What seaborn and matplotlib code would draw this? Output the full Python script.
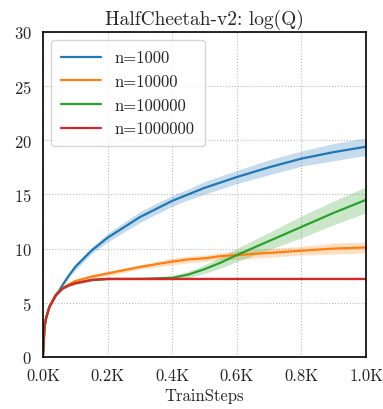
import matplotlib
matplotlib.use("Agg")
import matplotlib.pyplot as plt
import numpy as np
import pandas as pd
import seaborn as sns
from matplotlib.ticker import FuncFormatter

steps = [0, 5, 10, 20, 40, 50, 60, 80, 100, 150, 200, 300, 400, 450, 500, 550, 600, 700, 800, 900, 1000]
labels = ["n=1000", "n=10000", "n=100000", "n=1000000"]
q_n1e3 = [0, 2.8, 3.6, 4.6, 5.7, 6.1, 6.6, 7.5, 8.3, 9.8, 11.0, 12.9, 14.4, 15.0, 15.6, 16.1, 16.6, 17.5, 18.3, 18.9, 19.4]
q_n1e4 = [0, 2.8, 3.6, 4.6, 5.7, 6.0, 6.3, 6.7, 7.0, 7.4, 7.7, 8.3, 8.8, 9.0, 9.1, 9.3, 9.4, 9.6, 9.8, 10.0, 10.1]
q_n1e5 = [0, 2.8, 3.6, 4.6, 5.7, 6.0, 6.3, 6.6, 6.8, 7.1, 7.2, 7.2, 7.3, 7.6, 8.1, 8.7, 9.4, 10.7, 12.0, 13.3, 14.5]
q_n1e6 = [0, 2.8, 3.6, 4.6, 5.7, 6.0, 6.3, 6.6, 6.8, 7.1, 7.2, 7.2, 7.2, 7.2, 7.2, 7.2, 7.2, 7.2, 7.2, 7.2, 7.2]
sd_n1e3 = [0, 0.1, 0.1, 0.1, 0.2, 0.2, 0.2, 0.2, 0.3, 0.3, 0.4, 0.5, 0.5, 0.5, 0.6, 0.6, 0.6, 0.7, 0.7, 0.8, 0.8]
sd_n1e4 = [0, 0.1, 0.1, 0.1, 0.1, 0.1, 0.1, 0.1, 0.1, 0.2, 0.2, 0.2, 0.3, 0.3, 0.3, 0.3, 0.4, 0.4, 0.4, 0.5, 0.5]
sd_n1e5 = [0, 0.1, 0.1, 0.1, 0.1, 0.1, 0.1, 0.1, 0.1, 0.1, 0.1, 0.1, 0.2, 0.3, 0.4, 0.5, 0.6, 0.8, 1.0, 1.1, 1.2]
sd_n1e6 = [0, 0.1, 0.1, 0.1, 0.1, 0.1, 0.1, 0.1, 0.1, 0.1, 0.1, 0.1, 0.1, 0.1, 0.1, 0.1, 0.1, 0.1, 0.1, 0.1, 0.1]

means = [q_n1e3, q_n1e4, q_n1e5, q_n1e6]
stds = [sd_n1e3, sd_n1e4, sd_n1e5, sd_n1e6]

sns.set_theme(style="white")
plt.rcParams["font.family"] = ["cmr10", "DejaVu Serif"]
plt.rcParams["mathtext.fontset"] = "cm"
plt.rcParams["axes.formatter.use_mathtext"] = True

rows = []
for lab, m in zip(labels, means):
    for s, v in zip(steps, m):
        rows.append({"TrainSteps": s, "value": v, "run": lab})
df = pd.DataFrame(rows)

colors = sns.color_palette("tab10", 4)

fig, ax = plt.subplots(figsize=(3.83, 4.10), dpi=100)
sns.lineplot(data=df, x="TrainSteps", y="value", hue="run", palette=colors, lw=1.6, ax=ax)
x = np.array(steps)
for c, m, sd in zip(colors, means, stds):
    m = np.array(m)
    sd = np.array(sd)
    ax.fill_between(x, m - sd, m + sd, color=c, alpha=0.25, lw=0)

ax.set_xlim(0, 1000)
ax.set_ylim(0, 30)
ax.set_xticks([0, 200, 400, 600, 800, 1000])
ax.xaxis.set_major_formatter(FuncFormatter(lambda v, p: f"{v / 1000:.1f}K"))
ax.set_yticks([0, 5, 10, 15, 20, 25, 30])
ax.grid(True, linestyle=":", color="#bbbbbb", lw=0.8)
for sp in ax.spines.values():
    sp.set_color("black")
    sp.set_linewidth(1.2)
ax.tick_params(axis="both", direction="out", length=4, width=1, color="black", labelsize=12, pad=4)
ax.set_title("HalfCheetah-v2: log(Q)", fontsize=14, pad=6)
ax.set_xlabel("TrainSteps", fontsize=12, labelpad=3)
ax.set_ylabel("")
ax.legend(loc="upper left", fontsize=12, frameon=True, handlelength=2.4, borderpad=0.6)

fig.subplots_adjust(left=0.112, right=0.956, top=0.92, bottom=0.127)
fig.savefig("out.png", dpi=100)
